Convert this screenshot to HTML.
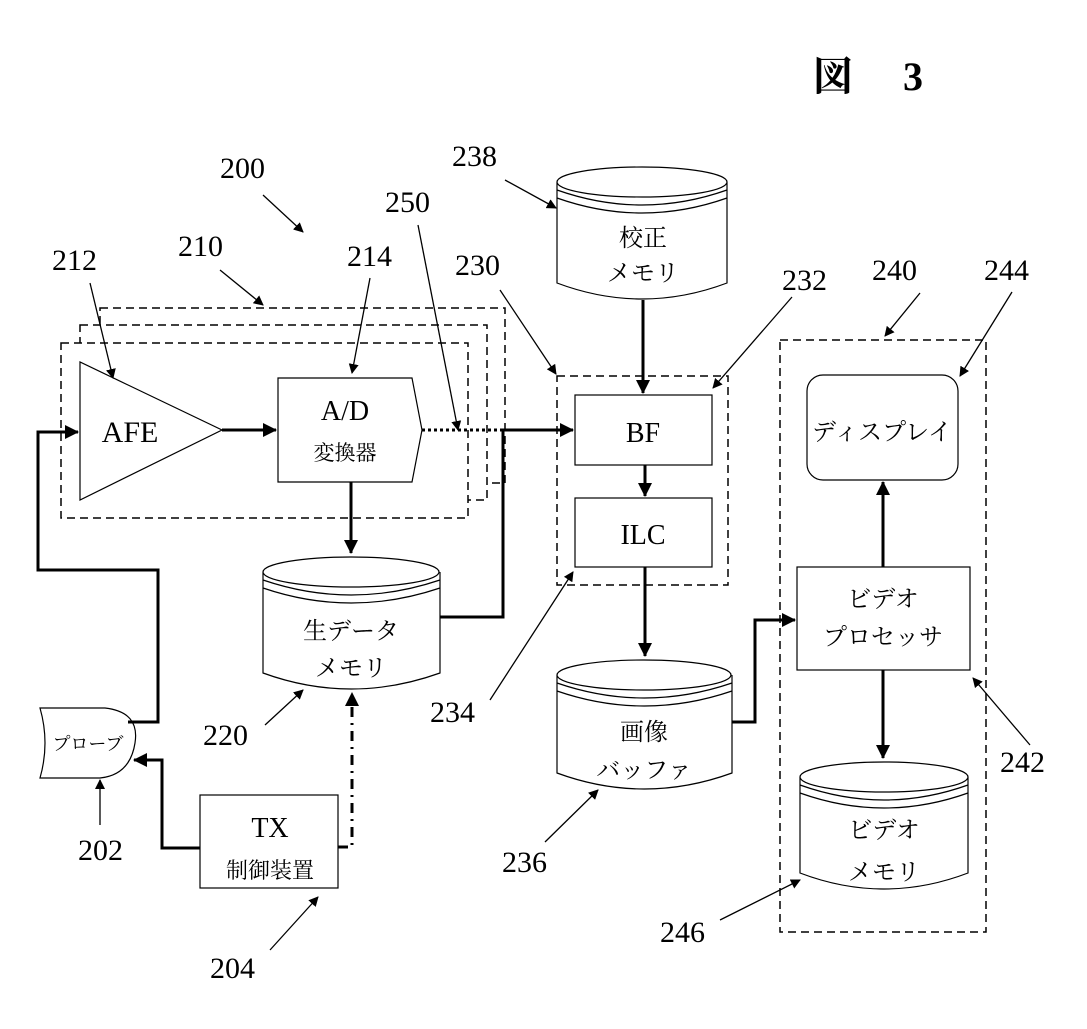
<!DOCTYPE html>
<html><head><meta charset="utf-8"><style>
body{margin:0;background:#fff}
text{font-family:"Liberation Serif","Noto Serif CJK SC",serif;fill:#000}
.j{font-family:"Liberation Serif","Noto Serif CJK SC",serif}
</style></head><body>
<svg width="1087" height="1024" viewBox="0 0 1087 1024" xmlns="http://www.w3.org/2000/svg">
<defs>
<marker id="a" markerWidth="10" markerHeight="10" refX="9" refY="5" orient="auto" markerUnits="userSpaceOnUse"><path d="M0,0 L10,5 L0,10 Z" fill="#000"/></marker>
<marker id="b" markerWidth="14" markerHeight="14" refX="13" refY="7" orient="auto" markerUnits="userSpaceOnUse"><path d="M0,0 L14,7 L0,14 Z" fill="#000"/></marker>
</defs>
<text x="813" y="90" font-size="40" font-weight="bold" class="j">図</text>
<text x="903" y="90" font-size="40" font-weight="bold">3</text>
<g fill="#fff" stroke="#000" stroke-width="1.5" stroke-dasharray="8,5">
<rect x="100" y="308" width="405" height="175"/>
<rect x="80" y="325" width="407" height="175"/>
<rect x="61" y="343" width="407" height="175"/>
<rect x="557" y="376" width="171" height="209" fill="none"/>
<rect x="780" y="340" width="206" height="592" fill="none"/>
</g>
<g fill="#fff" stroke="#000" stroke-width="1.2">
<path d="M80,362 L80,500 L222,430 Z"/>
<path d="M278,378 L412,378 L422,430 L412,482 L278,482 Z"/>
<rect x="575" y="395" width="137" height="70"/>
<rect x="575" y="498" width="137" height="69"/>
<rect x="807" y="375" width="151" height="105" rx="16"/>
<rect x="797" y="567" width="173" height="103"/>
<rect x="200" y="795" width="138" height="93"/>
<path d="M40,708 L105,708 Q140,712 135,743 Q130,775 100,778 L40,778 Q50,743 40,708 Z"/>
</g>
<g fill="#fff" stroke="#000" stroke-width="1.2">
<path d="M263,572 L263,673 Q351,705 440,673 L440,572"/><ellipse cx="351" cy="572" rx="88" ry="15"/><path d="M263,580 Q351,610 440,580 M263,588 Q351,618 440,588" fill="none"/>
<path d="M557,182 L557,283 Q642,315 727,283 L727,182"/><ellipse cx="642" cy="182" rx="85" ry="15"/><path d="M557,190 Q642,220 727,190 M557,198 Q642,228 727,198" fill="none"/>
<path d="M557,675 L557,773 Q644,805 732,773 L732,675"/><ellipse cx="644" cy="675" rx="87" ry="15"/><path d="M557,683 Q644,713 732,683 M557,691 Q644,721 732,691" fill="none"/>
<path d="M800,777 L800,873 Q884,905 968,873 L968,777"/><ellipse cx="884" cy="777" rx="84" ry="15"/><path d="M800,785 Q884,815 968,785 M800,793 Q884,823 968,793" fill="none"/>
</g>
<g stroke="#000" stroke-width="3" fill="none">
<path d="M222,430 L276,430" marker-end="url(#b)"/>
<path d="M422,430 L503,430" stroke-dasharray="3,3"/>
<path d="M503,430 L573,430" marker-end="url(#b)"/>
<path d="M440,617 L503,617 L503,430"/>
<path d="M351,482 L351,553" marker-end="url(#b)"/>
<path d="M128,722 L158,722 L158,570 L38,570 L38,432 L78,432" marker-end="url(#b)"/>
<path d="M200,848 L162,848 L162,760 L134,760" marker-end="url(#b)"/>
<path d="M338,847 L352,847 L352,693" stroke-dasharray="10,6,2,6" marker-end="url(#b)"/>
<path d="M643,300 L643,393" marker-end="url(#b)"/>
<path d="M645,465 L645,496" marker-end="url(#b)"/>
<path d="M645,567 L645,656" marker-end="url(#b)"/>
<path d="M732,722 L755,722 L755,620 L795,620" marker-end="url(#b)"/>
<path d="M883,567 L883,482" marker-end="url(#b)"/>
<path d="M883,670 L883,758" marker-end="url(#b)"/>
</g>
<g stroke="#000" stroke-width="1.3" fill="none" marker-end="url(#a)">
<path d="M100,825 L100,780"/>
<path d="M265,725 L303,690"/>
<path d="M270,950 L318,897"/>
<path d="M263,195 L303,232"/>
<path d="M418,225 L458,430"/>
<path d="M90,283 L113,378"/>
<path d="M220,270 L263,305"/>
<path d="M370,278 L352,373"/>
<path d="M500,290 L556,374"/>
<path d="M505,180 L556,208"/>
<path d="M792,297 L713,388"/>
<path d="M920,293 L885,336"/>
<path d="M1012,292 L960,376"/>
<path d="M490,700 L573,572"/>
<path d="M545,842 L598,790"/>
<path d="M1030,745 L973,678"/>
<path d="M720,920 L800,880"/>
</g>
<g font-size="30">
<text x="78" y="860">202</text><text x="203" y="745">220</text><text x="210" y="978">204</text>
<text x="220" y="178">200</text><text x="385" y="212">250</text><text x="52" y="270">212</text>
<text x="178" y="256">210</text><text x="347" y="266">214</text><text x="455" y="275">230</text>
<text x="452" y="166">238</text><text x="782" y="290">232</text><text x="872" y="280">240</text>
<text x="984" y="280">244</text><text x="430" y="722">234</text><text x="502" y="872">236</text>
<text x="1000" y="772">242</text><text x="660" y="942">246</text>
</g>
<text x="130" y="442" font-size="30" text-anchor="middle">AFE</text>
<text x="345" y="420" font-size="28" text-anchor="middle">A/D</text>
<text x="345" y="460" font-size="21" text-anchor="middle" class="j">変換器</text>
<text x="643" y="442" font-size="28" text-anchor="middle">BF</text>
<text x="643" y="544" font-size="28" text-anchor="middle">ILC</text>
<text x="270" y="837" font-size="28" text-anchor="middle">TX</text>
<text x="270" y="878" font-size="22" text-anchor="middle" class="j">制御装置</text>
<text x="88" y="750" font-size="18" text-anchor="middle" class="j">プローブ</text>
<g font-size="24" text-anchor="middle" class="j">
<text x="351" y="639">生データ</text><text x="351" y="676">メモリ</text>
<text x="643" y="246">校正</text><text x="643" y="281">メモリ</text>
<text x="644" y="740">画像</text><text x="644" y="778">バッファ</text>
<text x="882" y="440">ディスプレイ</text>
<text x="883" y="607">ビデオ</text><text x="883" y="645">プロセッサ</text>
<text x="884" y="838">ビデオ</text><text x="884" y="880">メモリ</text>
</g>
</svg>
</body></html>
